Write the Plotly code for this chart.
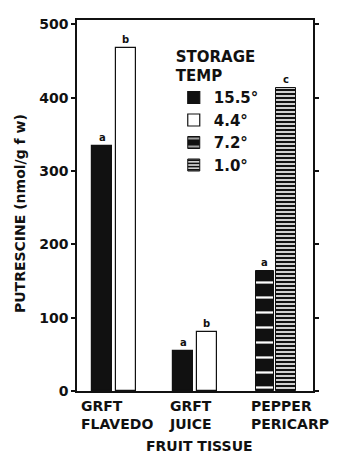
import plotly.graph_objects as go

# ---- data ----
categories = ["GRFT<br>FLAVEDO", "GRFT<br>JUICE", "PEPPER<br>PERICARP"]
temps = ["15.5°", "4.4°", "7.2°", "1.0°"]
grft_cats = [0, 1]          # GRFT flavedo, GRFT juice
pepper_cats = [2]           # pepper pericarp
val_155 = [334, 55]
val_44 = [468, 80]
val_72 = [164]
val_10 = [413]
let_155 = ["a", "a"]
let_44 = ["b", "b"]
let_72 = ["a"]
let_10 = ["c"]
yticks = [0, 100, 200, 300, 400, 500]

FONT = "DejaVu Sans"
INK = "#111111"

fig = go.Figure()

series = [
    (temps[0], grft_cats, val_155, let_155, -0.27, 0.25,
     dict(color=INK, line=dict(color=INK, width=1.2))),
    (temps[1], grft_cats, val_44, let_44, 0.02, 0.25,
     dict(color="white", line=dict(color=INK, width=1.2))),
    (temps[2], pepper_cats, val_72, let_72, -0.25, 0.225,
     dict(color=INK, line=dict(color=INK, width=1),
          pattern=dict(shape="-", fgcolor="white", bgcolor=INK, size=15,
                       solidity=0.15, fillmode="replace"))),
    (temps[3], pepper_cats, val_10, let_10, 0.0, 0.245,
     dict(color="white", line=dict(color=INK, width=1),
          pattern=dict(shape="-", fgcolor=INK, bgcolor="white", size=4,
                       solidity=0.6, fillmode="replace"))),
]

annotations = []
for name, xs, ys, lets, off, w, mk in series:
    fig.add_trace(go.Bar(x=xs, y=ys, name=name, offset=off, width=w,
                         marker=mk, showlegend=True))
    for xv, yv, lt in zip(xs, ys, lets):
        annotations.append(dict(x=xv + off + w / 2, y=yv, xref="x", yref="y",
                                text=lt, showarrow=False, yanchor="bottom",
                                yshift=1, font=dict(family=FONT, size=10,
                                                    color=INK, weight="bold")))

# category labels (left aligned, two lines)
label_x = [-0.43, -0.345, -0.33]
for cx, lab, lx in zip(range(len(categories)), categories, label_x):
    annotations.append(dict(x=cx + lx, y=0, xref="x", yref="y", text=lab,
                            showarrow=False, xanchor="left", yanchor="top",
                            align="left", yshift=-5,
                            font=dict(family=FONT, size=14, color=INK,
                                      weight="bold")))

annotations.append(dict(x=0.521, y=-0.147, xref="paper", yref="paper",
                        text="FRUIT TISSUE", showarrow=False,
                        xanchor="center", yanchor="middle",
                        font=dict(family=FONT, size=14, color=INK, weight="bold")))
annotations.append(dict(x=-0.2415, y=0.477, xref="paper", yref="paper",
                        text="PUTRESCINE (nmol/g f w)", showarrow=False,
                        textangle=-90, xanchor="center", yanchor="middle",
                        font=dict(family=FONT, size=14, color=INK, weight="bold")))

fig.update_layout(
    width=330, height=446,
    margin=dict(l=69, r=25, t=8, b=63),
    plot_bgcolor="white", paper_bgcolor="white",
    barmode="overlay",
    bargap=0,
    annotations=annotations,
    legend=dict(x=0.41, y=0.94, xanchor="left", yanchor="top",
                bgcolor="rgba(0,0,0,0)",
                title=dict(text="STORAGE<br>TEMP",
                           font=dict(family=FONT, size=15, color=INK, weight="bold")),
                font=dict(family=FONT, size=15, color=INK, weight="bold")),
    xaxis=dict(range=[-0.457, 2.457], showticklabels=False, ticks="",
               showline=True, mirror=True, linecolor=INK, linewidth=1.5,
               showgrid=False, zeroline=False, fixedrange=True),
    yaxis=dict(range=[0, 506], tickvals=yticks, ticks="outside", ticklen=4,
               tickwidth=1.5, tickcolor=INK, showline=True, mirror="ticks",
               linecolor=INK, linewidth=1.5, showgrid=False, zeroline=False,
               tickfont=dict(family=FONT, size=14, color=INK, weight="bold")),
)

fig.write_html("out.html")
